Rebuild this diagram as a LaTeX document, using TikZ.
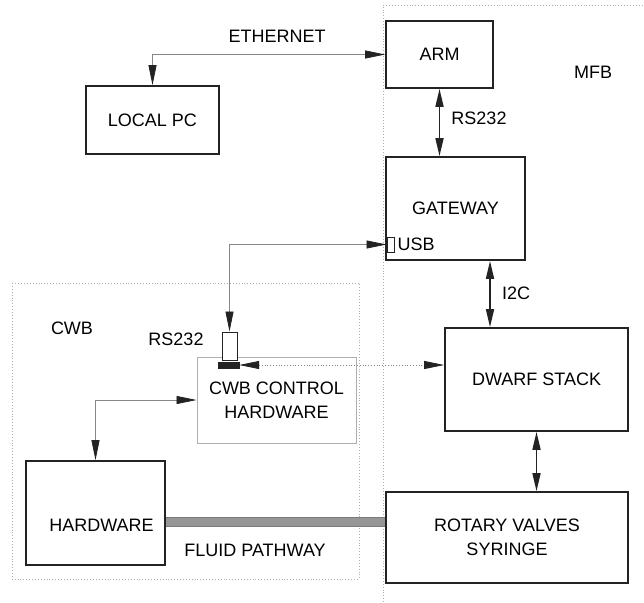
\documentclass[tikz,border=0pt]{standalone}
\usepackage{fontspec}
\setsansfont{Liberation Sans}
\usetikzlibrary{arrows.meta,positioning,calc}
\definecolor{ink}{RGB}{35,35,35}
\definecolor{wire}{RGB}{135,135,135}
\definecolor{zone}{RGB}{175,175,175}
\definecolor{pipe}{RGB}{150,150,150}
\tikzset{
  block/.style={draw=ink, line width=1.7pt, fill=white, align=center, inner sep=2pt},
  ctrl/.style={draw=zone, line width=0.9pt, fill=white, align=center},
  region/.style={draw=zone, line width=0.9pt, dotted},
  port/.style={draw=ink, line width=1pt, fill=white, inner sep=0pt},
  plug/.style={draw=ink, fill=ink, inner sep=0pt},
  bus/.style={draw=ink, line width=1.7pt, {Triangle[length=18pt, width=8pt]}-{Triangle[length=18pt, width=8pt]}},
  link/.style={draw=wire, line width=0.8pt, {Triangle[length=20pt, width=8pt, color=ink]}-{Triangle[length=20pt, width=8pt, color=ink]}},
  dotlink/.style={link, dotted},
  pipeline/.style={draw=ink!60, line width=0.8pt, double=pipe, double distance=8.5pt},
  lbl/.style={inner sep=0pt}
}

\begin{document}
\begin{tikzpicture}[x=1pt, y=-1pt, font=\sffamily\fontsize{18}{24}\selectfont]
    \useasboundingbox (0,0) rectangle (644,602);
    % zones
    \draw[region] (383,602) |- (644,5);
    \draw[region] (12,283) rectangle (359,579);
    \node[lbl] (mfb) at (593,72) {MFB};
    \node[lbl] (cwb) at (72,328) {CWB};

    % MFB
    \node[block, minimum width=133pt, minimum height=68pt] (localpc) at (152.5,120) {LOCAL PC};
    \node[block, minimum width=107pt, minimum height=67pt] (arm) at (439.5,54.5) {ARM};
    \node[block, minimum width=139pt, minimum height=103pt] (gateway) at (455.5,208.5) {GATEWAY};
    \node[port, minimum width=7pt, minimum height=15pt] (usb) at (390.5,244.5) {};
    \node[lbl, right=3pt of usb] (usblbl) {USB};
    \node[block, minimum width=183pt, minimum height=103pt] (dwarf) at (536.5,379.5) {DWARF STACK};
    \node[block, minimum width=242pt, minimum height=91pt] (rotary) at (507,537.5) {ROTARY VALVES\\SYRINGE};

    % CWB
    \node[ctrl, minimum width=159pt, minimum height=86pt] (cwbctrl) at (276.5,400) {CWB CONTROL\\HARDWARE};
    \node[port, minimum width=15pt, minimum height=28pt] (rsport) at (229.5,346) {};
    \node[plug, minimum width=21pt, minimum height=6pt] (rsplug) at (228.5,365) {};
    \node[lbl] (rslbl) at (176,339) {RS232};
    \node[block, minimum width=139pt, minimum height=104pt, text height=37pt] (hw) at (95.5,513) {\hspace*{12pt}HARDWARE};
    \coordinate (fp) at (0,522);

    % connections
    \draw[link] (arm.west) -| (localpc.north);
    \node[lbl] (ethlbl) at (277,36) {ETHERNET};
    \draw[bus] (arm.south) -- (arm.south |- gateway.north);
    \node[lbl] (armlbl) at (479,118) {RS232};
    \draw[link] (usb.west) -| (rsport.north);
    \draw[bus] ([xshift=34.5pt]gateway.south) -- ([xshift=34.5pt]gateway.south |- dwarf.north);
    \node[lbl] (i2clbl) at (516,293) {I2C};
    \draw[bus] (dwarf.south) -- (dwarf.south |- rotary.north);
    \draw[dotlink] (rsplug.east) -- (rsplug.east -| dwarf.west);
    \draw[link] (cwbctrl.west) -| (hw.north);
    \draw[pipeline] (hw.east |- fp) -- (rotary.west |- fp);
    \node[lbl] (fluidlbl) at (255,550) {FLUID PATHWAY};
\end{tikzpicture}
\end{document}
